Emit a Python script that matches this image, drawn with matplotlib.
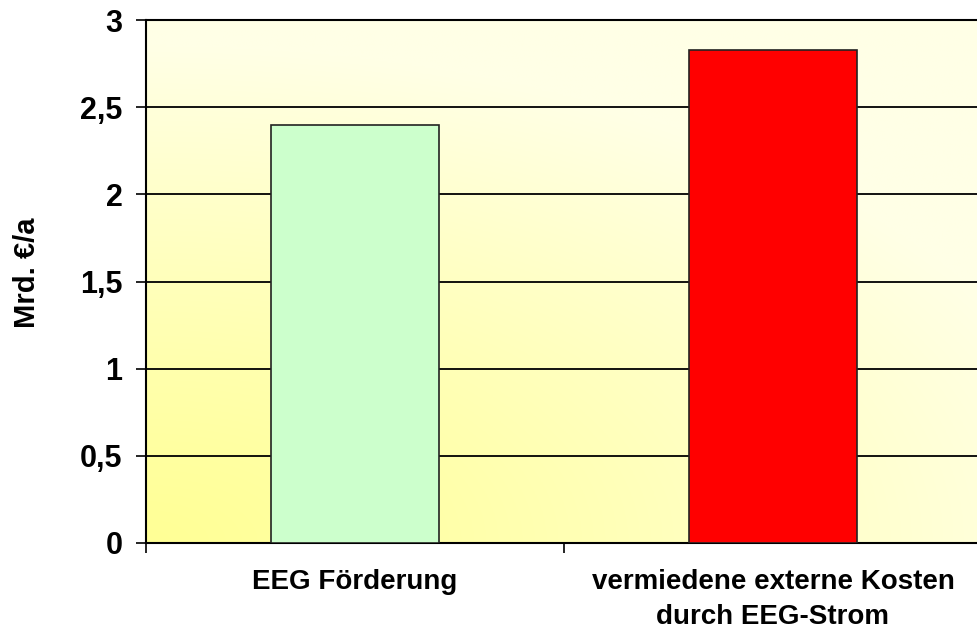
import numpy as np
import matplotlib
matplotlib.use("Agg")
import matplotlib.pyplot as plt

categories = ["EEG Förderung", "vermiedene externe Kosten\ndurch EEG-Strom"]
values = [2.4, 2.83]
bar_colors = ["#CCFFCC", "#FF0000"]
yticks = [0, 0.5, 1, 1.5, 2, 2.5, 3]
ytick_labels = ["0", "0,5", "1", "1,5", "2", "2,5", "3"]

plt.rcParams["font.family"] = ["Liberation Sans", "DejaVu Sans"]
plt.rcParams["font.weight"] = "bold"

fig = plt.figure(figsize=(9.78, 6.3), dpi=100)
ax = fig.add_axes([146 / 978, 1 - 543 / 630, 836 / 978, 523 / 630])

# background gradient (yellow in the lower left corner, fading out)
gx, gy = np.meshgrid(np.linspace(0, 1, 400), np.linspace(0, 1, 300))
t = np.clip(np.sqrt((gx / 1.15) ** 2 + (gy / 0.95) ** 2), 0, 1) ** 1.2
lo = np.array([255, 255, 150]) / 255
hi = np.array([255, 255, 230]) / 255
img = lo[None, None, :] * (1 - t[..., None]) + hi[None, None, :] * t[..., None]
ax.imshow(img, extent=[-0.5, 1.5, 0, 3], origin="lower", aspect="auto", zorder=0)

x = np.arange(len(categories))
ax.bar(x, values, width=0.4, color=bar_colors, edgecolor="#222222", linewidth=1.2, zorder=3)

for yv in yticks[1:-1]:
    ax.axhline(yv, color="black", linewidth=1.3, zorder=1)

ax.set_xlim(-0.5, 1.5)
ax.set_ylim(0, 3)
ax.set_yticks(yticks)
ax.set_yticklabels(ytick_labels, fontsize=22, fontweight="bold")
ax.set_xticks(x)
ax.set_xticklabels(categories, fontsize=20, fontweight="bold", linespacing=1.45)
ax.set_xticks([-0.5, 0.5, 1.5], minor=True)
ax.tick_params(axis="x", which="major", length=0, pad=19)
ax.tick_params(axis="x", which="minor", length=7, width=1.2, direction="out")
ax.tick_params(axis="y", length=7, width=1.2, pad=10)

ax.set_ylabel("Mrd. €/a", fontsize=21, fontweight="bold")
ax.yaxis.set_label_coords(-0.142, 0.516)
ax.yaxis.label.set_va("center")

for s in ["left", "bottom", "top"]:
    ax.spines[s].set_linewidth(1.5)
ax.spines["right"].set_visible(False)

fig.savefig("out.png", dpi=100)
